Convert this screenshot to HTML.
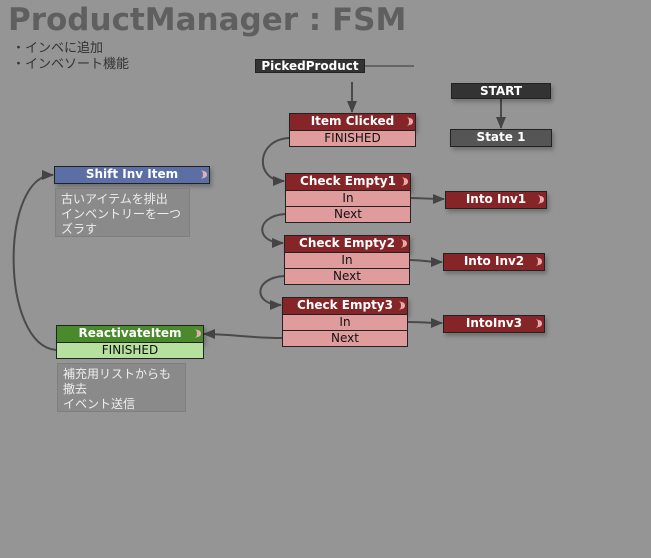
<!DOCTYPE html>
<html><head><meta charset="utf-8"><style>
body{margin:0;width:651px;height:558px;background:#959595;position:relative;overflow:hidden;font-family:"DejaVu Sans","Noto Sans CJK JP",sans-serif}
.a{position:absolute;box-sizing:border-box}
.h{color:#fff;font-weight:bold;font-size:12px;text-align:center;border:1px solid #222;line-height:15px;box-shadow:2px 3px 4px rgba(0,0,0,.25)}
.r{background:#e09c9c;color:#111;font-size:12px;text-align:center;border:1px solid #222;border-top:none;line-height:15px}
.red{background:#862528}
.w::after{content:"";position:absolute;right:4px;top:3px;width:5px;height:9px;border-right:2px solid #e8b0b0;border-radius:0 6px 6px 0;box-shadow:3px 0 0 -1px #e8b0b0}
.c{background:#8a8a8a;border:1px solid #7f7f7f;color:#eee;font-size:12px;line-height:15px;padding:2px 5px;font-family:"Noto Sans CJK JP",sans-serif}
</style></head><body>
<div class="a" style="left:8px;top:2px;font-size:31px;font-weight:bold;color:#5f5f5f">ProductManager : FSM</div>
<div class="a" style="left:12px;top:39px;font-size:13px;color:#333;line-height:16px;font-family:'Noto Sans CJK JP',sans-serif">・インベに追加<br>・インベソート機能</div>
<svg class="a" style="left:0;top:0" width="651" height="558">
<defs><marker id="m" markerWidth="12" markerHeight="10" refX="11" refY="5" orient="auto" markerUnits="userSpaceOnUse"><path d="M0,0L12,5L0,10z" fill="#444"/></marker></defs>
<g stroke="#4a4a4a" stroke-width="2" fill="none">
<line x1="365" y1="66" x2="414" y2="66" stroke="#333" stroke-width="1"/>
<line x1="352" y1="82" x2="352" y2="112" marker-end="url(#m)"/>
<line x1="501" y1="98" x2="501" y2="128" marker-end="url(#m)"/>
<path d="M289,138 C255,140 255,181 284,181" marker-end="url(#m)"/>
<path d="M285,214 C255,216 255,243 283,243" marker-end="url(#m)"/>
<path d="M284,276 C253,278 253,305 281,305" marker-end="url(#m)"/>
<path d="M282,338 C250,338 230,334 204,334" marker-end="url(#m)"/>
<path d="M56,350 C0,345 0,175 53,175" marker-end="url(#m)"/>
<path d="M410,198 C420,198 430,199 444,199" marker-end="url(#m)"/>
<path d="M409,260 C420,260 430,262 442,262" marker-end="url(#m)"/>
<path d="M407,322 C420,322 430,323 442,323" marker-end="url(#m)"/>
</g></svg>
<div class="a h" style="left:255px;top:59px;width:110px;height:14px;background:#333;line-height:13px;box-shadow:none">PickedProduct</div>
<div class="a h" style="left:451px;top:83px;width:100px;height:16px;background:#333;line-height:14px">START</div>
<div class="a h" style="left:450px;top:129px;width:102px;height:18px;background:#555">State 1</div>

<div class="a h red w" style="left:289px;top:113px;width:127px;height:18px">Item Clicked</div>
<div class="a r" style="left:289px;top:131px;width:127px;height:16px">FINISHED</div>

<div class="a h w" style="left:54px;top:166px;width:156px;height:18px;background:#5b6fa6">Shift Inv Item</div>
<div class="a c" style="left:55px;top:188px;width:135px;height:49px">古いアイテムを排出<br>インベントリーを一つ<br>ズラす</div>

<div class="a h red w" style="left:285px;top:173px;width:126px;height:18px">Check Empty1</div>
<div class="a r" style="left:285px;top:191px;width:126px;height:16px">In</div>
<div class="a r" style="left:285px;top:207px;width:126px;height:16px">Next</div>

<div class="a h red w" style="left:284px;top:235px;width:126px;height:18px">Check Empty2</div>
<div class="a r" style="left:284px;top:253px;width:126px;height:16px">In</div>
<div class="a r" style="left:284px;top:269px;width:126px;height:16px">Next</div>

<div class="a h red w" style="left:282px;top:297px;width:126px;height:18px">Check Empty3</div>
<div class="a r" style="left:282px;top:315px;width:126px;height:16px">In</div>
<div class="a r" style="left:282px;top:331px;width:126px;height:16px">Next</div>

<div class="a h red w" style="left:445px;top:191px;width:102px;height:18px">Into Inv1</div>
<div class="a h red w" style="left:443px;top:253px;width:102px;height:18px">Into Inv2</div>
<div class="a h red w" style="left:443px;top:315px;width:102px;height:18px">IntoInv3</div>

<div class="a h w" style="left:56px;top:325px;width:148px;height:18px;background:#4a8a2c">ReactivateItem</div>
<div class="a r" style="left:56px;top:343px;width:148px;height:16px;background:#b5e09d">FINISHED</div>
<div class="a c" style="left:57px;top:363px;width:129px;height:49px">補充用リストからも<br>撤去<br>イベント送信</div>
</body></html>
